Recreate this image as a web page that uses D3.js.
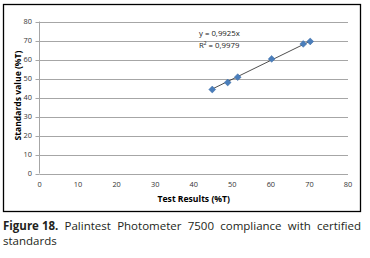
<!DOCTYPE html>
<html>
<head>
<meta charset="utf-8">
<script src="https://cdn.jsdelivr.net/npm/d3@7"></script>
<style>
  body { margin: 0; background: #fff; }
  svg { display: block; }
</style>
</head>
<body>
<svg id="chart" width="370" height="258"></svg>
<script>
// ================= DATA =================
const testResults = [44.8, 48.8, 51.4, 60.2, 68.4, 70.2];
const standardsValue = [44.2, 47.9, 50.7, 60.3, 68.2, 69.5];
const slope = 0.9925;
const equationLines = ["y = 0,9925x", "R² = 0,9979"];
const xTicks = [0, 10, 20, 30, 40, 50, 60, 70, 80];
const yTicks = [0, 10, 20, 30, 40, 50, 60, 70, 80];
const captionBold = "Figure 18.";
const captionWords = ["Palintest", "Photometer", "7500", "compliance", "with", "certified"];
const captionLine2 = "standards";
// ========================================

const svg = d3.select("#chart");
const font = "'Open Sans', 'Noto Sans', sans-serif";

const plot = {left: 39.5, right: 348, top: 21.5, bottom: 173.5};

const x = d3.scaleLinear().domain([0, 80]).range([plot.left, plot.right]);
const y = d3.scaleLinear().domain([0, 80]).range([plot.bottom, plot.top]);

// outer frame
svg.append("rect")
    .attr("x", 3.5).attr("y", 4.5)
    .attr("width", 357).attr("height", 207)
    .attr("fill", "none")
    .attr("stroke", "#000")
    .attr("stroke-width", 1.3);

// gridlines
svg.append("g")
    .selectAll("line")
    .data(yTicks.slice(1))
    .enter().append("line")
    .attr("x1", plot.left).attr("x2", plot.right)
    .attr("y1", d => Math.round(y(d)) + 0.5)
    .attr("y2", d => Math.round(y(d)) + 0.5)
    .attr("stroke", "#a6a6a6")
    .attr("stroke-width", 1);

// axes lines
svg.append("line")
    .attr("x1", plot.left).attr("x2", plot.left)
    .attr("y1", plot.top).attr("y2", plot.bottom)
    .attr("stroke", "#a6a6a6");
svg.append("line")
    .attr("x1", plot.left).attr("x2", plot.right)
    .attr("y1", Math.round(plot.bottom) + 0.5).attr("y2", Math.round(plot.bottom) + 0.5)
    .attr("stroke", "#a6a6a6");

// small y tick marks
svg.append("g")
    .selectAll("line")
    .data(yTicks)
    .enter().append("line")
    .attr("x1", plot.left - 4).attr("x2", plot.left)
    .attr("y1", d => Math.round(y(d)) + 0.5)
    .attr("y2", d => Math.round(y(d)) + 0.5)
    .attr("stroke", "#a6a6a6");

// tick labels
svg.append("g")
    .selectAll("text")
    .data(yTicks)
    .enter().append("text")
    .attr("x", 32)
    .attr("y", d => y(d) + 2.6)
    .attr("text-anchor", "end")
    .style("font-family", font)
    .style("font-size", "7.4px")
    .attr("fill", "#333")
    .text(d => d);

svg.append("g")
    .selectAll("text")
    .data(xTicks)
    .enter().append("text")
    .attr("x", d => x(d))
    .attr("y", 186.5)
    .attr("text-anchor", "middle")
    .style("font-family", font)
    .style("font-size", "7.4px")
    .attr("fill", "#333")
    .text(d => d);

// axis titles
svg.append("text")
    .attr("x", (plot.left + plot.right) / 2)
    .attr("y", 202)
    .attr("text-anchor", "middle")
    .style("font-family", font)
    .style("font-size", "8.6px")
    .style("font-weight", "bold")
    .text("Test Results (%T)");

svg.append("text")
    .attr("transform", "translate(20.5," + ((plot.top + plot.bottom) / 2 - 2) + ")rotate(-90)")
    .attr("text-anchor", "middle")
    .style("font-family", font)
    .style("font-size", "8.6px")
    .style("font-weight", "bold")
    .text("Standards value (%T)");

// trendline
const xMin = d3.min(testResults), xMax = d3.max(testResults);
svg.append("line")
    .attr("x1", x(xMin)).attr("y1", y(slope * xMin))
    .attr("x2", x(xMax)).attr("y2", y(slope * xMax))
    .attr("stroke", "#222")
    .attr("stroke-width", 0.8);

// diamond markers
const points = testResults.map((d, i) => ({tx: d, sv: standardsValue[i]}));
svg.append("g")
    .selectAll("path")
    .data(points)
    .enter().append("path")
    .attr("d", d3.symbol().type(d3.symbolDiamond2).size(30))
    .attr("transform", d => "translate(" + x(d.tx) + "," + y(d.sv) + ")")
    .attr("fill", "#4a7ebb")
    .attr("stroke", "#3a6aa5")
    .attr("stroke-width", 0.5);

// equation
svg.append("g")
    .selectAll("text")
    .data(equationLines)
    .enter().append("text")
    .attr("x", 199)
    .attr("y", (d, i) => 36 + i * 12)
    .style("font-family", font)
    .style("font-size", "7.8px")
    .attr("fill", "#222")
    .text(d => d);

// caption, first line justified across the frame width
const capLeft = 3, capRight = 361, capY = 230;
const capGroup = svg.append("g")
    .style("font-family", font)
    .style("font-size", "11.5px")
    .attr("fill", "#231f20");
const words = [{t: captionBold, b: true}].concat(captionWords.map(w => ({t: w, b: false})));
const nodes = words.map(w => capGroup.append("text")
    .attr("y", capY)
    .style("font-weight", w.b ? "bold" : "normal")
    .text(w.t));
const widths = nodes.map(n => n.node().getComputedTextLength());
const gap = (capRight - capLeft - d3.sum(widths)) / (nodes.length - 1);
let cx = capLeft;
nodes.forEach((n, i) => { n.attr("x", cx); cx += widths[i] + gap; });

capGroup.append("text")
    .attr("x", capLeft)
    .attr("y", capY + 14.5)
    .text(captionLine2);
</script>
</body>
</html>
